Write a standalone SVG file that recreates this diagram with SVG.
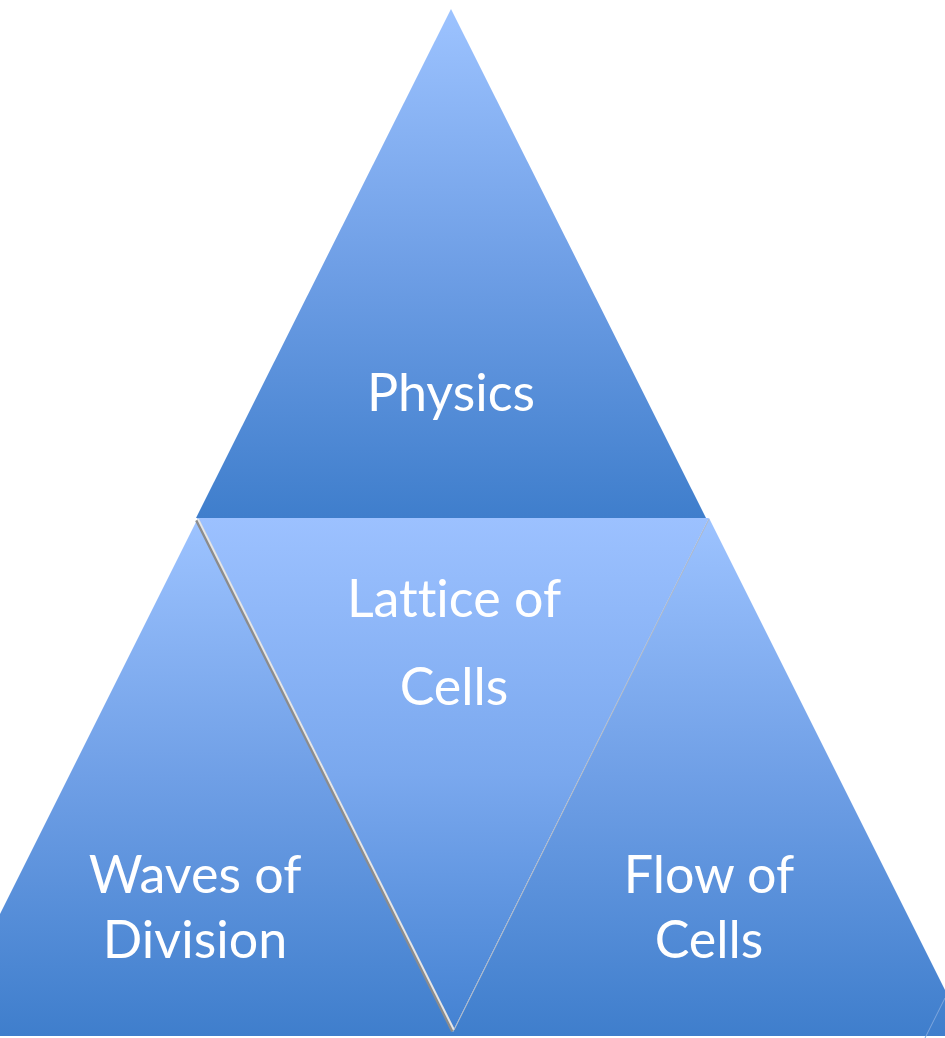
<svg xmlns="http://www.w3.org/2000/svg" width="945" height="1038" viewBox="0 0 945 1038">
<defs>
<linearGradient id="gUp" x1="0" y1="0" x2="0" y2="1">
<stop offset="0" stop-color="#9dc3ff"/>
<stop offset="0.5" stop-color="#6f9fe6"/>
<stop offset="1" stop-color="#3f7ecc"/>
</linearGradient>
<linearGradient id="gDown" x1="0" y1="0" x2="0" y2="1">
<stop offset="0" stop-color="#9cc1ff"/>
<stop offset="0.5" stop-color="#7aa8ee"/>
<stop offset="1" stop-color="#4482d2"/>
</linearGradient>
<style>
.t{font-family:Lato,"Open Sans","Liberation Sans",sans-serif;font-size:52px;fill:#ffffff;text-anchor:middle;font-variant-ligatures:none}
</style>
</defs>
<rect width="945" height="1038" fill="#ffffff"/>
<g id="physics">
<polygon points="451,9 706,518 196,518" fill="url(#gUp)"/>
<text class="t" x="451" y="411">Physics</text>
</g>
<g id="waves">
<polygon points="197,520 455,1036 -61,1036" fill="url(#gUp)"/>
<text class="t" x="195" y="893">Waves of</text>
<text class="t" x="195" y="958">Division</text>
</g>
<g id="flow">
<polygon points="709,518 968,1036 451,1036" fill="url(#gUp)"/>
<text class="t" x="709" y="893">Flow of</text>
<text class="t" x="709" y="958">Cells</text>
</g>
<g id="lattice">
<polygon points="197,518 709,518 453,1031" fill="url(#gDown)"/>
<text class="t" x="454" y="617">Lattice of</text>
<text class="t" x="454" y="705">Cells</text>
</g>
<g id="connectors">
<line x1="197" y1="520" x2="453" y2="1031" stroke="#8c8c8c" stroke-width="4"/>
<line x1="198" y1="519" x2="454" y2="1030" stroke="#e6e6e6" stroke-width="2"/>
<line x1="709" y1="519" x2="454" y2="1030" stroke="#b0b8c4" stroke-width="1"/>
<line x1="925" y1="1038" x2="945" y2="998" stroke="#7fa6dc" stroke-width="1"/>
</g>
</svg>
